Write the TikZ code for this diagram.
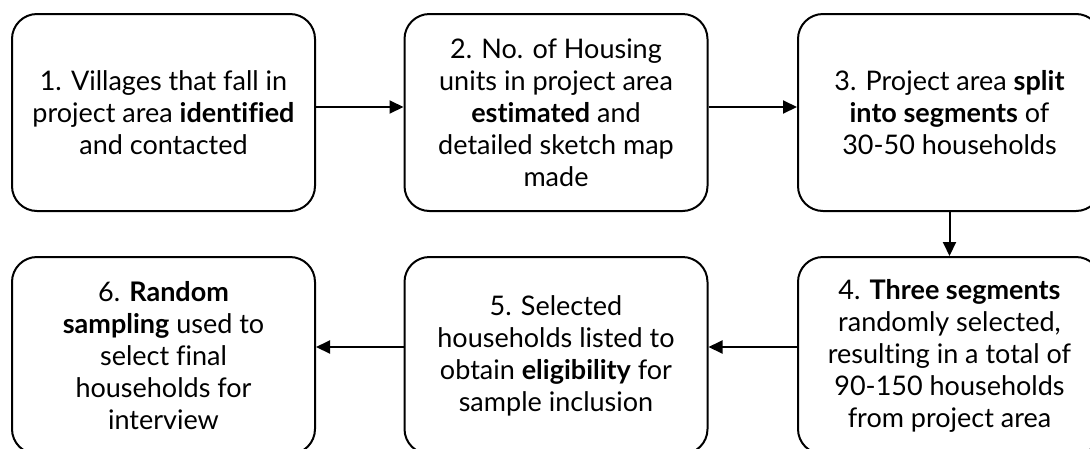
\documentclass[tikz,border=0pt]{standalone}
\usepackage{fontspec}
\setmainfont{Lato}[Ligatures=NoCommon]
\usetikzlibrary{arrows.meta}
\tikzset{
  stepbox/.style={draw, line width=2pt, rounded corners=25pt,
    minimum width=303pt, minimum height=197pt, inner sep=0pt,
    align=center, font=\fontsize{27pt}{32pt}\selectfont},
  arr/.style={line width=2pt, -{Triangle[length=14pt,width=13pt]}}
}
\begin{document}
\begin{tikzpicture}[x=1pt,y=-1pt]
\useasboundingbox (0,0) rectangle (1090,448);
\clip (0,0) rectangle (1090,448);
\node[stepbox] (b1) at (163.5,112.5) {1. Villages that fall in\\project area \textbf{identified}\\and contacted};
\node[stepbox] (b2) at (556,112.5) {2. No. of Housing\\units in project area\\\textbf{estimated} and\\detailed sketch map\\made};
\node[stepbox] (b3) at (949.5,112.5) {3. Project area \textbf{split}\\\textbf{into segments} of\\30-50 households};
\node[stepbox] (b4) at (949.5,355.5) {4. \textbf{Three segments}\\randomly selected,\\resulting in a total of\\90-150 households\\from project area};
\node[stepbox] (b5) at (556,355.5) {5. Selected\\households listed to\\obtain \textbf{eligibility} for\\sample inclusion};
\node[stepbox] (b6) at (163.5,355.5) {6. \textbf{Random}\\\textbf{sampling} used to\\select final\\households for\\interview};
\draw[arr] ([yshift=5.5pt]b1.east) -- ([yshift=5.5pt]b2.west);
\draw[arr] ([yshift=5.5pt]b2.east) -- ([yshift=5.5pt]b3.west);
\draw[arr] (b3.south) -- (b4.north);
\draw[arr] ([yshift=8.5pt]b4.west) -- ([yshift=8.5pt]b5.east);
\draw[arr] ([yshift=8.5pt]b5.west) -- ([yshift=8.5pt]b6.east);
\end{tikzpicture}
\end{document}
